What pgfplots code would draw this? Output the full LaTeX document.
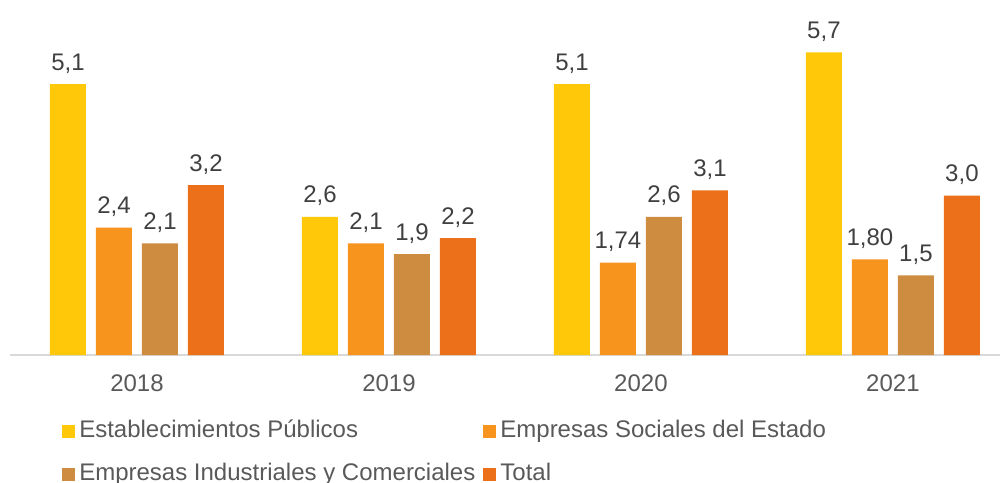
\documentclass[border=0pt]{standalone}
\usepackage{pgfplots}
\pgfplotsset{compat=1.18}
\usepackage{fontspec}
\setmainfont{Liberation Sans}
\definecolor{cA}{HTML}{FFC90A}
\definecolor{cB}{HTML}{F7941E}
\definecolor{cC}{HTML}{CE8C40}
\definecolor{cD}{HTML}{EC7019}
\definecolor{axgray}{HTML}{D9D9D9}
\definecolor{lbldark}{HTML}{404040}
\definecolor{lblgray}{HTML}{595959}
\pgfplotstableread{
x y lab
0 5.1 5,1
1 2.6 2,6
2 5.1 5,1
3 5.7 5,7
}\tA
\pgfplotstableread{
x y lab
0 2.4 2,4
1 2.1 2,1
2 1.74 1,74
3 1.80 1,80
}\tB
\pgfplotstableread{
x y lab
0 2.1 2,1
1 1.9 1,9
2 2.6 2,6
3 1.5 1,5
}\tC
\pgfplotstableread{
x y lab
0 3.2 3,2
1 2.2 2,2
2 3.1 3,1
3 3.0 3,0
}\tD
\begin{document}
\begin{tikzpicture}
\begin{axis}[
  scale only axis, width=742.5pt, height=266.25pt,
  xmin=-0.504, xmax=3.425, ymin=0, ymax=6.685,
  axis x line=bottom, axis y line=none,
  axis line style={draw=axgray, line width=1pt, -},
  xtick={0,1,2,3}, xticklabels={2018,2019,2020,2021},
  major tick length=0pt,
  xticklabel style={font=\fontsize{18}{21}\selectfont, text=lblgray, anchor=base, yshift=-27.4pt},
  ytick=\empty,
  ybar, bar width=27pt,
  nodes near coords, point meta=explicit symbolic,
  nodes near coords style={font=\fontsize{18}{21}\selectfont, text=lbldark, anchor=base, inner sep=0pt, yshift=10.5pt},
  legend columns=2,
  legend cell align=left,
  legend image code/.code={\fill[#1,draw=none] (0pt,-4.6pt) rectangle (9.75pt,5.15pt);},
  legend style={at={(0,0)}, anchor=north west, xshift=39pt, yshift=-48.6pt, draw=none, fill=none,
    font=\fontsize{18}{21}\selectfont, text=lblgray, row sep=15.25pt, inner sep=0pt,
    /tikz/every even column/.append style={column sep=3pt},
    nodes={inner sep=0pt, text height=13pt, text depth=4pt, inner xsep=3pt}},
]
\addplot[fill=cA, draw=none, bar shift=-51.75pt] table[x=x, y=y, meta=lab] {\tA};
\addlegendentry{Establecimientos Públicos}
\addplot[fill=cB, draw=none, bar shift=-17.25pt] table[x=x, y=y, meta=lab] {\tB};
\addlegendentry{Empresas Sociales del Estado}
\addplot[fill=cC, draw=none, bar shift=17.25pt] table[x=x, y=y, meta=lab] {\tC};
\addlegendentry{Empresas Industriales y Comerciales}
\addplot[fill=cD, draw=none, bar shift=51.75pt] table[x=x, y=y, meta=lab] {\tD};
\addlegendentry{Total}
\end{axis}
\pgfresetboundingbox
\path[use as bounding box] ([xshift=-7.5pt]current axis.north west) rectangle ([xshift=2.25pt,yshift=-95.25pt]current axis.south east);
\end{tikzpicture}
\end{document}
